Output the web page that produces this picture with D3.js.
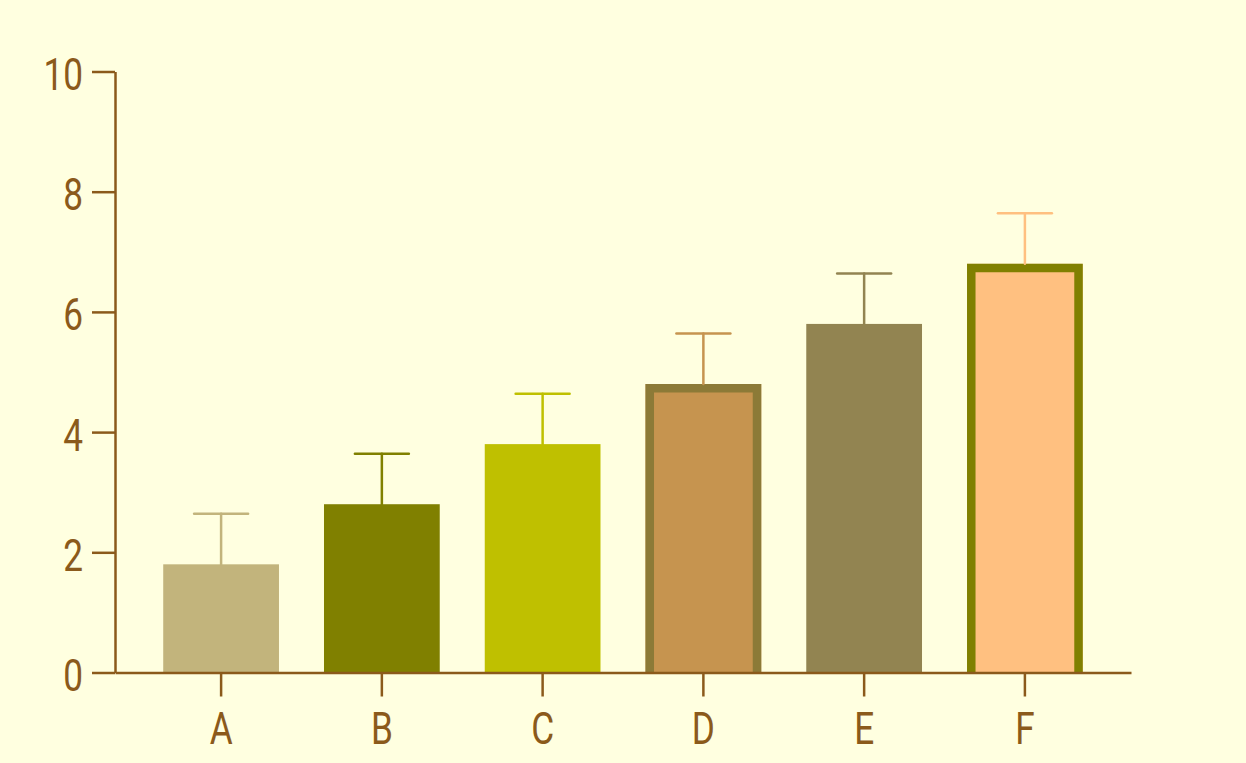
<!DOCTYPE html>
<html>
<head>
<meta charset="utf-8">
<script src="https://cdn.jsdelivr.net/npm/d3@7"></script>
<style>
  html, body { margin: 0; padding: 0; background: #FFFFE0; }
  .axis text { font-family: Roboto, "Noto Sans", sans-serif; font-size: 44px; font-weight: 400; fill: #8B5A1B; }
  .axis path, .axis line { stroke: #8B5A1B; stroke-width: 2.5; }
</style>
</head>
<body>
<div id="chart"></div>
<script>
const categories = ["A", "B", "C", "D", "E", "F"];
const means = [1.8, 2.8, 3.8, 4.8, 5.8, 6.8];
const errors = [0.84, 0.84, 0.84, 0.84, 0.84, 0.84];
const fills = ["#C2B47C", "#808000", "#BFC000", "#C6944F", "#928451", "#FFC080"];
const outlines = [null, null, null, "#8C7A37", null, "#808000"];
const yTicks = [0, 2, 4, 6, 8, 10];

const width = 1246, height = 763;
const squeeze = 0.8; // chữ hẹp

const data = categories.map((c, i) => ({
    cat: c, mean: means[i], err: errors[i], fill: fills[i], outline: outlines[i]
}));

const svg = d3.select("#chart")
    .append("svg")
    .attr("width", width)
    .attr("height", height)
    .style("background", "#FFFFE0");

// Thang đo
const x = d3.scaleBand()
    .domain(categories)
    .range([115, 1131])
    .paddingInner(0.28)
    .paddingOuter(0.3);

const y = d3.scaleLinear()
    .domain([0, 10])
    .range([672.5, 71.5]);

const sw = 8.5;

// Cột
svg.selectAll(".bar")
    .data(data)
    .enter()
    .append("rect")
    .attr("class", "bar")
    .attr("x", d => x(d.cat))
    .attr("y", d => y(d.mean))
    .attr("width", x.bandwidth())
    .attr("height", d => y(0) - y(d.mean))
    .attr("fill", d => d.fill);

// Viền (trái, trên, phải)
svg.selectAll(".outline")
    .data(data.filter(d => d.outline))
    .enter()
    .append("path")
    .attr("class", "outline")
    .attr("fill", "none")
    .attr("stroke", d => d.outline)
    .attr("stroke-width", sw)
    .attr("d", d => {
        const x0 = x(d.cat) + sw / 2, x1 = x(d.cat) + x.bandwidth() - sw / 2;
        const y0 = y(d.mean) + sw / 2, yb = y(0);
        return `M${x0},${yb}V${y0}H${x1}V${yb}`;
    });

// Thanh sai số
const eb = svg.selectAll(".err")
    .data(data)
    .enter()
    .append("g")
    .attr("class", "err")
    .attr("stroke", d => d.fill)
    .attr("stroke-width", 2.5)
    .attr("stroke-linecap", "round");

eb.append("line")
    .attr("x1", d => x(d.cat) + x.bandwidth() / 2)
    .attr("x2", d => x(d.cat) + x.bandwidth() / 2)
    .attr("y1", d => y(d.mean))
    .attr("y2", d => y(d.mean + d.err));

eb.append("line")
    .attr("x1", d => x(d.cat) + x.bandwidth() / 2 - 27)
    .attr("x2", d => x(d.cat) + x.bandwidth() / 2 + 27)
    .attr("y1", d => y(d.mean + d.err))
    .attr("y2", d => y(d.mean + d.err));

// Trục X
svg.append("g")
    .attr("class", "axis")
    .attr("transform", `translate(0,${y(0)})`)
    .call(d3.axisBottom(x).tickSize(24).tickSizeOuter(0))
    .selectAll("text")
    .attr("y", 71.5)
    .attr("dy", null)
    .attr("transform", `scale(${squeeze},1)`);

// Trục Y
svg.append("g")
    .attr("class", "axis")
    .attr("transform", "translate(115,0)")
    .call(d3.axisLeft(y).tickValues(yTicks).tickSize(23).tickSizeOuter(0))
    .selectAll("text")
    .attr("x", -32 / squeeze)
    .attr("dy", "0.41em")
    .attr("transform", `scale(${squeeze},1)`);
</script>
</body>
</html>
